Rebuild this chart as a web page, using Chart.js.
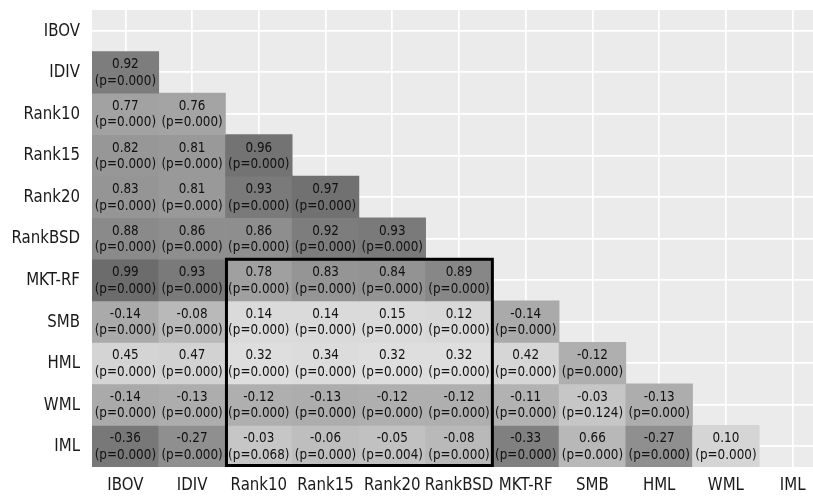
<!DOCTYPE html>
<html>
<head>
<meta charset="utf-8">
<script src="https://cdn.jsdelivr.net/npm/chart.js@4"></script>
<style>
  html, body { margin: 0; padding: 0; background: #fff; overflow: hidden; }
  #wrap { width: 813px; height: 497px; overflow: hidden; }
</style>
</head>
<body>
<div id="wrap"><canvas id="c" width="826" height="497"></canvas></div>
<script>
// variables (same order on both axes)
const names = ['IBOV', 'IDIV', 'Rank10', 'Rank15', 'Rank20', 'RankBSD', 'MKT-RF', 'SMB', 'HML', 'WML', 'IML'];

// lower triangle, row i has i values (columns 0..i-1)
const corr = [
  [],
  [0.92],
  [0.77, 0.76],
  [0.82, 0.81, 0.96],
  [0.83, 0.81, 0.93, 0.97],
  [0.88, 0.86, 0.86, 0.92, 0.93],
  [0.99, 0.93, 0.78, 0.83, 0.84, 0.89],
  [-0.14, -0.08, 0.14, 0.14, 0.15, 0.12, -0.14],
  [0.45, 0.47, 0.32, 0.34, 0.32, 0.32, 0.42, -0.12],
  [-0.14, -0.13, -0.12, -0.13, -0.12, -0.12, -0.11, -0.03, -0.13],
  [-0.36, -0.27, -0.03, -0.06, -0.05, -0.08, -0.33, 0.66, -0.27, 0.10]
];
const pval = [
  [],
  [0.000],
  [0.000, 0.000],
  [0.000, 0.000, 0.000],
  [0.000, 0.000, 0.000, 0.000],
  [0.000, 0.000, 0.000, 0.000, 0.000],
  [0.000, 0.000, 0.000, 0.000, 0.000, 0.000],
  [0.000, 0.000, 0.000, 0.000, 0.000, 0.000, 0.000],
  [0.000, 0.000, 0.000, 0.000, 0.000, 0.000, 0.000, 0.000],
  [0.000, 0.000, 0.000, 0.000, 0.000, 0.000, 0.000, 0.124, 0.000],
  [0.000, 0.000, 0.068, 0.000, 0.004, 0.000, 0.000, 0.000, 0.000, 0.000]
];

// highlighted block: columns Rank10..RankBSD, rows MKT-RF..IML
const boxCols = ['Rank10', 'RankBSD'];
const boxRows = ['MKT-RF', 'IML'];

// grey colormap (diverging map seen in greyscale, lightest around 0.3)
const greyStops = [
  [-0.36, 120], [-0.27, 143], [-0.14, 170], [-0.03, 198], [0.14, 218],
  [0.32, 222], [0.47, 210], [0.66, 184], [0.77, 162], [0.83, 149],
  [0.88, 138], [0.93, 122], [0.99, 108]
];
function grey(v) {
  let g = greyStops[0][1];
  for (let k = 0; k < greyStops.length - 1; k++) {
    const a = greyStops[k], b = greyStops[k + 1];
    if (v >= a[0] && v <= b[0]) {
      g = a[1] + (b[1] - a[1]) * (v - a[0]) / (b[0] - a[0]);
      break;
    }
    if (v > b[0]) g = b[1];
  }
  g = Math.round(g);
  return 'rgb(' + g + ',' + g + ',' + g + ')';
}

let datasets = [];
for (let i = 1; i < names.length; i++) {
  datasets.push({
    data: names.map((_, j) => j < i ? [i, i + 1] : null),
    backgroundColor: names.map((_, j) => j < i ? grey(corr[i][j]) : 'rgba(0,0,0,0)'),
    borderWidth: 0,
    barPercentage: 1,
    categoryPercentage: 1,
    grouped: false
  });
}

const STRETCH = 1.15; // text in the picture is a bit taller than wide

function tallText(ctx, s, x, y) {
  ctx.save();
  ctx.translate(x, y);
  ctx.scale(1, STRETCH);
  ctx.fillText(s, 0, 0);
  ctx.restore();
}

const panelBg = {
  id: 'panelBg',
  beforeDraw(chart) {
    const a = chart.chartArea, ctx = chart.ctx;
    ctx.save();
    ctx.fillStyle = '#ebebeb';
    ctx.fillRect(a.left, a.top, a.right - a.left, a.bottom - a.top);
    ctx.restore();
  }
};

const cellText = {
  id: 'cellText',
  afterDatasetsDraw(chart) {
    const ctx = chart.ctx, x = chart.scales.x, y = chart.scales.y;
    ctx.save();
    ctx.fillStyle = '#111';
    ctx.font = '12px "DejaVu Sans"';
    ctx.textAlign = 'center';
    ctx.textBaseline = 'middle';
    for (let i = 1; i < names.length; i++) {
      for (let j = 0; j < i; j++) {
        const px = x.getPixelForValue(j);
        const py = y.getPixelForValue(i + 0.5);
        tallText(ctx, corr[i][j].toFixed(2), px, py - 7.5);
        tallText(ctx, '(p=' + pval[i][j].toFixed(3) + ')', px, py + 9);
      }
    }
    // black frame round the block
    const c0 = names.indexOf(boxCols[0]), c1 = names.indexOf(boxCols[1]);
    const r0 = names.indexOf(boxRows[0]), r1 = names.indexOf(boxRows[1]);
    const half = (x.getPixelForValue(1) - x.getPixelForValue(0)) / 2;
    const left = x.getPixelForValue(c0) - half, right = x.getPixelForValue(c1) + half;
    const top = y.getPixelForValue(r0), bottom = y.getPixelForValue(r1 + 1);
    ctx.strokeStyle = '#000';
    ctx.lineWidth = 3;
    ctx.strokeRect(left + 1, top, right - left - 1, bottom - top - 1.5);

    // axis labels
    ctx.fillStyle = '#1a1a1a';
    ctx.font = '15px "DejaVu Sans"';
    ctx.textAlign = 'right';
    names.forEach((n, i) => tallText(ctx, n, x.left - 12, y.getPixelForValue(i + 0.5) + 0.5));
    ctx.textAlign = 'center';
    names.forEach((n, j) => tallText(ctx, n, x.getPixelForValue(j), y.bottom + 19));
    ctx.restore();
  }
};

new Chart(document.getElementById('c'), {
  type: 'bar',
  data: { labels: names, datasets: datasets },
  options: {
    responsive: false,
    animation: false,
    layout: { padding: { top: 10, left: 0, right: 0, bottom: 0 } },
    plugins: { legend: { display: false }, tooltip: { enabled: false } },
    scales: {
      x: {
        type: 'category',
        offset: true,
        border: { display: false },
        grid: { offset: false, color: '#ffffff', lineWidth: 1.7, drawTicks: false },
        ticks: { display: false },
        afterFit(s) { s.height = 30; s.paddingLeft = 0; s.paddingRight = 0; }
      },
      y: {
        type: 'linear',
        min: 0,
        max: names.length,
        reverse: true,
        border: { display: false },
        grid: { color: '#ffffff', lineWidth: 1.7, drawTicks: false },
        ticks: { display: false },
        afterBuildTicks(s) { s.ticks = names.map((_, i) => ({ value: i + 0.5 })); },
        afterFit(s) { s.width = 92; s.paddingTop = 0; s.paddingBottom = 0; }
      }
    }
  },
  plugins: [panelBg, cellText]
});
</script>
</body>
</html>
